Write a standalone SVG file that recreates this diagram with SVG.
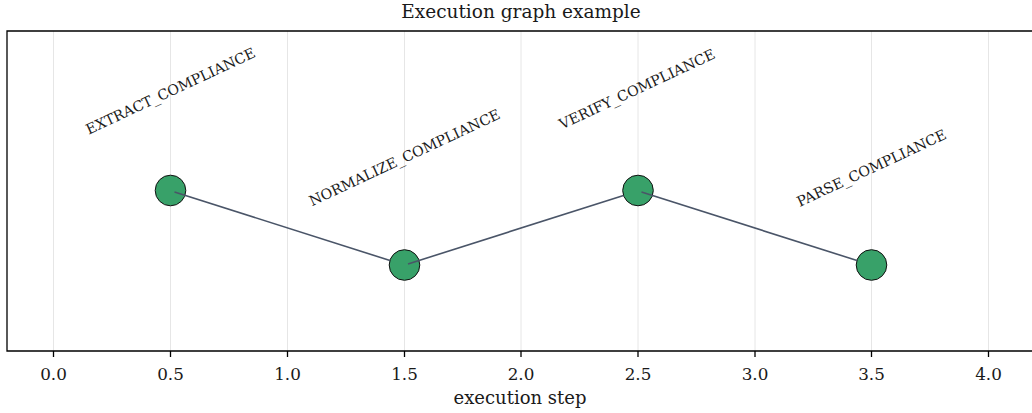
<svg xmlns="http://www.w3.org/2000/svg" width="1032" height="413" viewBox="0 0 1032 413">
<style>
.grid{stroke:#e6e6e6;stroke-width:1}
.spine{stroke:#000;stroke-width:1.3;fill:none}
.tick{stroke:#000;stroke-width:1.3}
.tl{font-family:"DejaVu Serif",serif;font-size:16.8px;fill:#1a1a1a;text-anchor:middle}
.lbl{font-family:"DejaVu Serif",serif;font-size:14.3px;fill:#1a1a1a;text-anchor:middle}
.edge{stroke:#4a5568;stroke-width:1.6;fill:none}
.node{fill:#38a169;stroke:#111;stroke-width:1}
</style>
<rect width="1032" height="413" fill="#fff"/>
<g id="grid">
<line class="grid" x1="53.5" y1="31" x2="53.5" y2="351"/>
<line class="grid" x1="170.5" y1="31" x2="170.5" y2="351"/>
<line class="grid" x1="287.5" y1="31" x2="287.5" y2="351"/>
<line class="grid" x1="404.5" y1="31" x2="404.5" y2="351"/>
<line class="grid" x1="521" y1="31" x2="521" y2="351"/>
<line class="grid" x1="638" y1="31" x2="638" y2="351"/>
<line class="grid" x1="755" y1="31" x2="755" y2="351"/>
<line class="grid" x1="871.5" y1="31" x2="871.5" y2="351"/>
<line class="grid" x1="988.5" y1="31" x2="988.5" y2="351"/>
</g>
<g id="axes">
<path class="spine" d="M1040 31 H7 V351 H1040"/>
<g class="ticks">
<line class="tick" x1="53.5" y1="351" x2="53.5" y2="357"/>
<line class="tick" x1="170.5" y1="351" x2="170.5" y2="357"/>
<line class="tick" x1="287.5" y1="351" x2="287.5" y2="357"/>
<line class="tick" x1="404.5" y1="351" x2="404.5" y2="357"/>
<line class="tick" x1="521" y1="351" x2="521" y2="357"/>
<line class="tick" x1="638" y1="351" x2="638" y2="357"/>
<line class="tick" x1="755" y1="351" x2="755" y2="357"/>
<line class="tick" x1="871.5" y1="351" x2="871.5" y2="357"/>
<line class="tick" x1="988.5" y1="351" x2="988.5" y2="357"/>
</g>
<text class="tl" x="53.5" y="380">0.0</text>
<text class="tl" x="170.5" y="380">0.5</text>
<text class="tl" x="287.5" y="380">1.0</text>
<text class="tl" x="404.5" y="380">1.5</text>
<text class="tl" x="521" y="380">2.0</text>
<text class="tl" x="638" y="380">2.5</text>
<text class="tl" x="755" y="380">3.0</text>
<text class="tl" x="871.5" y="380">3.5</text>
<text class="tl" x="988.5" y="380">4.0</text>
<text class="tl" x="520" y="404" style="font-size:18px">execution step</text>
<text class="tl" x="521" y="18" style="font-size:18.5px">Execution graph example</text>
</g>
<g id="nodes">
<g id="n_extract"><circle class="node" cx="170.5" cy="190.5" r="15.3"/></g>
<g id="n_normalize"><circle class="node" cx="404.5" cy="265" r="15.3"/></g>
<g id="n_verify"><circle class="node" cx="638" cy="190.5" r="15.3"/></g>
<g id="n_parse"><circle class="node" cx="871.5" cy="265" r="15.3"/></g>
</g>
<g id="connectors">
<line class="edge" x1="174.5" y1="192" x2="390" y2="260.5"/>
<line class="edge" x1="408" y1="264" x2="623.5" y2="195.5"/>
<line class="edge" x1="641.5" y1="192" x2="857" y2="260.5"/>
</g>
<g id="labels">
<text class="lbl" x="170.5" y="91" dy="0.35em" transform="rotate(-25 170.5 91)">EXTRACT_COMPLIANCE</text>
<text class="lbl" x="404.5" y="157.5" dy="0.35em" transform="rotate(-25 404.5 157.5)">NORMALIZE_COMPLIANCE</text>
<text class="lbl" x="637" y="89" dy="0.35em" transform="rotate(-25 637 89)">VERIFY_COMPLIANCE</text>
<text class="lbl" x="871.5" y="168" dy="0.35em" transform="rotate(-25 871.5 168)">PARSE_COMPLIANCE</text>
</g>
</svg>
